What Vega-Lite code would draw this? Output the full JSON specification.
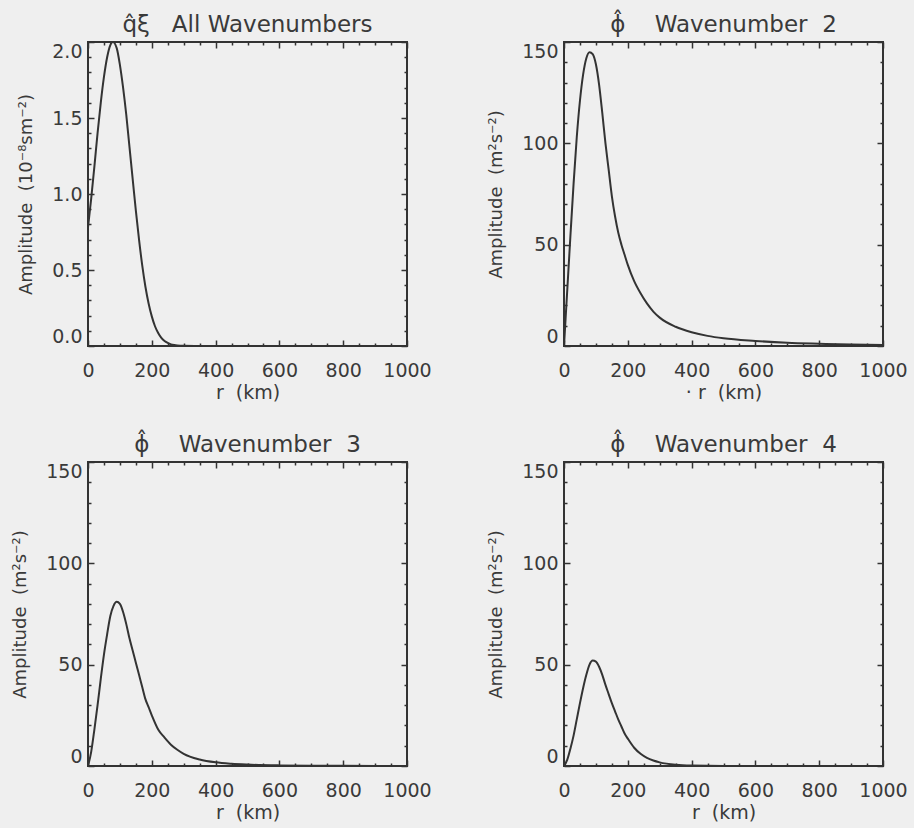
{
  "$schema": "https://vega.github.io/schema/vega-lite/v6.json",
  "background": "#efefef",
  "padding": {"left": 10, "top": 13, "right": 5, "bottom": 5},
  "columns": 2,
  "spacing": {"row": 30, "column": 53},
  "datasets": {
    "p1": [
      {"r": 0, "a": 0.78}, {"r": 10, "a": 0.97}, {"r": 20, "a": 1.18}, {"r": 30, "a": 1.40}, {"r": 40, "a": 1.60},
      {"r": 50, "a": 1.77}, {"r": 60, "a": 1.90}, {"r": 70, "a": 1.98}, {"r": 78, "a": 2.0}, {"r": 90, "a": 1.96},
      {"r": 100, "a": 1.85}, {"r": 110, "a": 1.70}, {"r": 120, "a": 1.52}, {"r": 130, "a": 1.31}, {"r": 140, "a": 1.10},
      {"r": 150, "a": 0.89}, {"r": 160, "a": 0.70}, {"r": 170, "a": 0.53}, {"r": 180, "a": 0.39}, {"r": 190, "a": 0.28},
      {"r": 200, "a": 0.195}, {"r": 210, "a": 0.13}, {"r": 220, "a": 0.086}, {"r": 230, "a": 0.054}, {"r": 240, "a": 0.033},
      {"r": 250, "a": 0.02}, {"r": 260, "a": 0.011}, {"r": 270, "a": 0.006}, {"r": 280, "a": 0.003}, {"r": 300, "a": 0.001},
      {"r": 400, "a": 0}, {"r": 600, "a": 0}, {"r": 800, "a": 0}, {"r": 1000, "a": 0}
    ],
    "p2": [
      {"r": 0, "a": 0}, {"r": 10, "a": 27}, {"r": 20, "a": 54}, {"r": 30, "a": 80}, {"r": 40, "a": 103},
      {"r": 50, "a": 121}, {"r": 60, "a": 134}, {"r": 70, "a": 142}, {"r": 80, "a": 145}, {"r": 90, "a": 144},
      {"r": 100, "a": 139}, {"r": 110, "a": 129}, {"r": 120, "a": 115}, {"r": 130, "a": 100}, {"r": 140, "a": 87},
      {"r": 150, "a": 74}, {"r": 160, "a": 64}, {"r": 170, "a": 56}, {"r": 180, "a": 50}, {"r": 190, "a": 45},
      {"r": 200, "a": 40}, {"r": 220, "a": 32}, {"r": 240, "a": 26}, {"r": 260, "a": 21}, {"r": 280, "a": 17},
      {"r": 300, "a": 14}, {"r": 350, "a": 9.5}, {"r": 400, "a": 6.8}, {"r": 450, "a": 5}, {"r": 500, "a": 3.8},
      {"r": 600, "a": 2.5}, {"r": 700, "a": 1.6}, {"r": 800, "a": 1.1}, {"r": 900, "a": 0.7}, {"r": 1000, "a": 0.5}
    ],
    "p3": [
      {"r": 0, "a": 0}, {"r": 10, "a": 7}, {"r": 20, "a": 18}, {"r": 30, "a": 30}, {"r": 40, "a": 43},
      {"r": 50, "a": 55}, {"r": 60, "a": 65}, {"r": 70, "a": 74}, {"r": 80, "a": 79}, {"r": 90, "a": 81},
      {"r": 100, "a": 80}, {"r": 110, "a": 76}, {"r": 120, "a": 70}, {"r": 130, "a": 63}, {"r": 140, "a": 57},
      {"r": 150, "a": 51}, {"r": 160, "a": 45}, {"r": 170, "a": 39}, {"r": 180, "a": 33}, {"r": 190, "a": 29},
      {"r": 200, "a": 25}, {"r": 220, "a": 18}, {"r": 240, "a": 14}, {"r": 260, "a": 10.5}, {"r": 280, "a": 8},
      {"r": 300, "a": 6}, {"r": 350, "a": 3.2}, {"r": 400, "a": 1.8}, {"r": 450, "a": 1.1}, {"r": 500, "a": 0.7},
      {"r": 600, "a": 0.3}, {"r": 700, "a": 0.15}, {"r": 800, "a": 0.08}, {"r": 1000, "a": 0.03}
    ],
    "p4": [
      {"r": 0, "a": 0}, {"r": 10, "a": 3}, {"r": 20, "a": 8.5}, {"r": 30, "a": 15}, {"r": 40, "a": 23},
      {"r": 50, "a": 31}, {"r": 60, "a": 38.5}, {"r": 70, "a": 45}, {"r": 80, "a": 50}, {"r": 90, "a": 52},
      {"r": 100, "a": 51.5}, {"r": 110, "a": 49}, {"r": 120, "a": 45}, {"r": 130, "a": 40}, {"r": 140, "a": 35.5},
      {"r": 150, "a": 31}, {"r": 160, "a": 27}, {"r": 170, "a": 23}, {"r": 180, "a": 19.5}, {"r": 190, "a": 16},
      {"r": 200, "a": 13.5}, {"r": 220, "a": 9}, {"r": 240, "a": 6}, {"r": 260, "a": 4}, {"r": 280, "a": 2.7},
      {"r": 300, "a": 1.8}, {"r": 350, "a": 0.6}, {"r": 400, "a": 0.2}, {"r": 500, "a": 0.05}, {"r": 600, "a": 0.01},
      {"r": 1000, "a": 0}
    ]
  },
  "concat": [
    {
      "width": 319, "height": 304,
      "title": "q\u0302\u03be\u00a0\u00a0 All\u00a0Wavenumbers",
      "data": {"name": "p1"},
      "layer": [
        {
          "mark": {"type": "line", "color": "#333333", "strokeWidth": 2, "clip": true, "interpolate": "monotone"},
          "encoding": {
            "x": {"field": "r", "type": "quantitative", "scale": {"domain": [0, 1000], "nice": false},
              "axis": {"title": "r\u00a0\u00a0(km)", "orient": "bottom", "values": [0,50,100,150,200,250,300,350,400,450,500,550,600,650,700,750,800,850,900,950,1000],
                "labelExpr": "datum.value % 200 === 0 ? format(datum.value, 'd') : ''",
                "tickSize": {"condition": {"test": "datum.value % 200 === 0", "value": -6}, "value": -3}}},
            "y": {"field": "a", "type": "quantitative", "scale": {"domain": [0, 2], "nice": false},
              "axis": {"title": "Amplitude\u00a0\u00a0(10\u207b\u2078sm\u207b\u00b2)", "orient": "left", "values": [0,0.1,0.2,0.3,0.4,0.5,0.6,0.7,0.8,0.9,1.0,1.1,1.2,1.3,1.4,1.5,1.6,1.7,1.8,1.9,2.0],
                "labelExpr": "datum.value % 0.5 === 0 ? format(datum.value, '.1f') : ''",
                "tickSize": {"condition": {"test": "datum.value % 0.5 === 0", "value": -6}, "value": -3}}}
          }
        },
        {
          "mark": {"type": "line", "opacity": 0},
          "encoding": {
            "x": {"field": "r", "type": "quantitative", "scale": {"domain": [0, 1000], "nice": false},
              "axis": {"title": null, "orient": "top", "labels": false, "values": [0,50,100,150,200,250,300,350,400,450,500,550,600,650,700,750,800,850,900,950,1000],
                "tickSize": {"condition": {"test": "datum.value % 200 === 0", "value": -6}, "value": -3}}},
            "y": {"field": "a", "type": "quantitative", "scale": {"domain": [0, 2], "nice": false},
              "axis": {"title": null, "orient": "right", "labels": false, "values": [0,0.1,0.2,0.3,0.4,0.5,0.6,0.7,0.8,0.9,1.0,1.1,1.2,1.3,1.4,1.5,1.6,1.7,1.8,1.9,2.0],
                "tickSize": {"condition": {"test": "datum.value % 0.5 === 0", "value": -6}, "value": -3}}}
          }
        }
      ],
      "resolve": {"axis": {"x": "independent", "y": "independent"}}
    },
    {
      "width": 319, "height": 304,
      "title": "\u03d5\u0302\u00a0\u00a0\u00a0 Wavenumber\u00a0\u00a02",
      "data": {"name": "p2"},
      "layer": [
        {
          "mark": {"type": "line", "color": "#333333", "strokeWidth": 2, "clip": true, "interpolate": "monotone"},
          "encoding": {
            "x": {"field": "r", "type": "quantitative", "scale": {"domain": [0, 1000], "nice": false},
              "axis": {"title": "\u00b7 r\u00a0\u00a0(km)", "orient": "bottom", "values": [0,50,100,150,200,250,300,350,400,450,500,550,600,650,700,750,800,850,900,950,1000],
                "labelExpr": "datum.value % 200 === 0 ? format(datum.value, 'd') : ''",
                "tickSize": {"condition": {"test": "datum.value % 200 === 0", "value": -6}, "value": -3}}},
            "y": {"field": "a", "type": "quantitative", "scale": {"domain": [0, 150], "nice": false},
              "axis": {"title": "Amplitude\u00a0\u00a0(m\u00b2s\u207b\u00b2)", "orient": "left", "values": [0,10,20,30,40,50,60,70,80,90,100,110,120,130,140,150],
                "labelExpr": "datum.value % 50 === 0 ? format(datum.value, 'd') : ''",
                "tickSize": {"condition": {"test": "datum.value % 50 === 0", "value": -6}, "value": -3}}}
          }
        },
        {
          "mark": {"type": "line", "opacity": 0},
          "encoding": {
            "x": {"field": "r", "type": "quantitative", "scale": {"domain": [0, 1000], "nice": false},
              "axis": {"title": null, "orient": "top", "labels": false, "values": [0,50,100,150,200,250,300,350,400,450,500,550,600,650,700,750,800,850,900,950,1000],
                "tickSize": {"condition": {"test": "datum.value % 200 === 0", "value": -6}, "value": -3}}},
            "y": {"field": "a", "type": "quantitative", "scale": {"domain": [0, 150], "nice": false},
              "axis": {"title": null, "orient": "right", "labels": false, "values": [0,10,20,30,40,50,60,70,80,90,100,110,120,130,140,150],
                "tickSize": {"condition": {"test": "datum.value % 50 === 0", "value": -6}, "value": -3}}}
          }
        }
      ],
      "resolve": {"axis": {"x": "independent", "y": "independent"}}
    },
    {
      "width": 319, "height": 304,
      "title": "\u03d5\u0302\u00a0\u00a0\u00a0 Wavenumber\u00a0\u00a03",
      "data": {"name": "p3"},
      "layer": [
        {
          "mark": {"type": "line", "color": "#333333", "strokeWidth": 2, "clip": true, "interpolate": "monotone"},
          "encoding": {
            "x": {"field": "r", "type": "quantitative", "scale": {"domain": [0, 1000], "nice": false},
              "axis": {"title": "r\u00a0\u00a0(km)", "orient": "bottom", "values": [0,50,100,150,200,250,300,350,400,450,500,550,600,650,700,750,800,850,900,950,1000],
                "labelExpr": "datum.value % 200 === 0 ? format(datum.value, 'd') : ''",
                "tickSize": {"condition": {"test": "datum.value % 200 === 0", "value": -6}, "value": -3}}},
            "y": {"field": "a", "type": "quantitative", "scale": {"domain": [0, 150], "nice": false},
              "axis": {"title": "Amplitude\u00a0\u00a0(m\u00b2s\u207b\u00b2)", "orient": "left", "values": [0,10,20,30,40,50,60,70,80,90,100,110,120,130,140,150],
                "labelExpr": "datum.value % 50 === 0 ? format(datum.value, 'd') : ''",
                "tickSize": {"condition": {"test": "datum.value % 50 === 0", "value": -6}, "value": -3}}}
          }
        },
        {
          "mark": {"type": "line", "opacity": 0},
          "encoding": {
            "x": {"field": "r", "type": "quantitative", "scale": {"domain": [0, 1000], "nice": false},
              "axis": {"title": null, "orient": "top", "labels": false, "values": [0,50,100,150,200,250,300,350,400,450,500,550,600,650,700,750,800,850,900,950,1000],
                "tickSize": {"condition": {"test": "datum.value % 200 === 0", "value": -6}, "value": -3}}},
            "y": {"field": "a", "type": "quantitative", "scale": {"domain": [0, 150], "nice": false},
              "axis": {"title": null, "orient": "right", "labels": false, "values": [0,10,20,30,40,50,60,70,80,90,100,110,120,130,140,150],
                "tickSize": {"condition": {"test": "datum.value % 50 === 0", "value": -6}, "value": -3}}}
          }
        }
      ],
      "resolve": {"axis": {"x": "independent", "y": "independent"}}
    },
    {
      "width": 319, "height": 304,
      "title": "\u03d5\u0302\u00a0\u00a0\u00a0 Wavenumber\u00a0\u00a04",
      "data": {"name": "p4"},
      "layer": [
        {
          "mark": {"type": "line", "color": "#333333", "strokeWidth": 2, "clip": true, "interpolate": "monotone"},
          "encoding": {
            "x": {"field": "r", "type": "quantitative", "scale": {"domain": [0, 1000], "nice": false},
              "axis": {"title": "r\u00a0\u00a0(km)", "orient": "bottom", "values": [0,50,100,150,200,250,300,350,400,450,500,550,600,650,700,750,800,850,900,950,1000],
                "labelExpr": "datum.value % 200 === 0 ? format(datum.value, 'd') : ''",
                "tickSize": {"condition": {"test": "datum.value % 200 === 0", "value": -6}, "value": -3}}},
            "y": {"field": "a", "type": "quantitative", "scale": {"domain": [0, 150], "nice": false},
              "axis": {"title": "Amplitude\u00a0\u00a0(m\u00b2s\u207b\u00b2)", "orient": "left", "values": [0,10,20,30,40,50,60,70,80,90,100,110,120,130,140,150],
                "labelExpr": "datum.value % 50 === 0 ? format(datum.value, 'd') : ''",
                "tickSize": {"condition": {"test": "datum.value % 50 === 0", "value": -6}, "value": -3}}}
          }
        },
        {
          "mark": {"type": "line", "opacity": 0},
          "encoding": {
            "x": {"field": "r", "type": "quantitative", "scale": {"domain": [0, 1000], "nice": false},
              "axis": {"title": null, "orient": "top", "labels": false, "values": [0,50,100,150,200,250,300,350,400,450,500,550,600,650,700,750,800,850,900,950,1000],
                "tickSize": {"condition": {"test": "datum.value % 200 === 0", "value": -6}, "value": -3}}},
            "y": {"field": "a", "type": "quantitative", "scale": {"domain": [0, 150], "nice": false},
              "axis": {"title": null, "orient": "right", "labels": false, "values": [0,10,20,30,40,50,60,70,80,90,100,110,120,130,140,150],
                "tickSize": {"condition": {"test": "datum.value % 50 === 0", "value": -6}, "value": -3}}}
          }
        }
      ],
      "resolve": {"axis": {"x": "independent", "y": "independent"}}
    }
  ],
  "config": {
    "font": "DejaVu Sans",
    "view": {"stroke": "#333333", "strokeWidth": 2},
    "title": {"fontSize": 23, "fontWeight": "normal", "color": "#3a3a3a", "offset": 4, "font": "DejaVu Sans"},
    "axis": {
      "domain": false, "grid": false,
      "labelFont": "DejaVu Sans", "labelFontSize": 19, "labelColor": "#3a3a3a",
      "titleFont": "DejaVu Sans", "titleFontSize": 18, "titleFontWeight": "normal", "titleColor": "#3a3a3a",
      "tickColor": "#333333", "tickWidth": 1.5, "labelOverlap": false
    },
    "axisX": {"labelFlush": false, "labelPadding": 21, "titlePadding": 0, "titleFontSize": 19},
    "axisY": {"labelFlush": true, "labelPadding": 12, "titlePadding": 16}
  }
}
